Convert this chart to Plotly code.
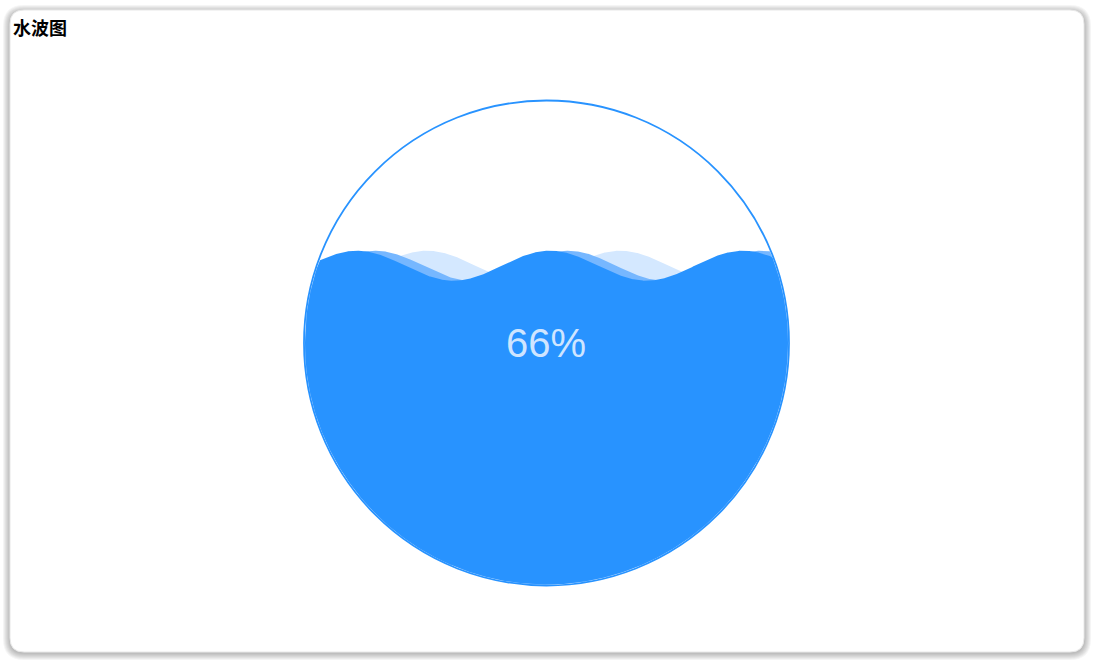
import numpy as np
import plotly.graph_objects as go

# ---- data ----
title_text = "水波图"
wave_values = [0.66, 0.66, 0.66]          # back, middle, front wave levels
label_value = 0.66
label_text = f"{round(label_value * 100)}%"

# ---- style / layout constants ----
W, H = 1094, 662
CX, CY = 546.5, 343.0
R_FILL = 241.5
R_OUT = 242.5
AMP = 15.0
WAVELEN = 193.0
wave_peaks = [427.0, 568.0, 550.0]        # x of one crest per wave (back, middle, front)
wave_colors = ["#d4e8ff", "#76b7ff", "#2893ff"]
MAIN = "#2893ff"


def rounded_rect(x0, y0, x1, y1, r):
    return (f"M{x0+r},{y0} L{x1-r},{y0} Q{x1},{y0} {x1},{y0+r} "
            f"L{x1},{y1-r} Q{x1},{y1} {x1-r},{y1} L{x0+r},{y1} "
            f"Q{x0},{y1} {x0},{y1-r} L{x0},{y0+r} Q{x0},{y0} {x0+r},{y0} Z")


fig = go.Figure()

# waves clipped to the fill circle
xs = np.linspace(CX - R_FILL, CX + R_FILL, 900)
half = np.sqrt(np.clip(R_FILL**2 - (xs - CX) ** 2, 0, None))
top_circle = CY - half
bot_circle = CY + half
for val, peak, col in zip(wave_values, wave_peaks, wave_colors):
    level_y = CY + R_FILL - val * 2 * R_FILL
    wave_y = level_y - AMP * np.cos(2 * np.pi * (xs - peak) / WAVELEN)
    upper = np.maximum(wave_y, top_circle)
    upper = np.minimum(upper, bot_circle)
    px = np.concatenate([xs, xs[::-1]])
    py = np.concatenate([upper, bot_circle[::-1]])
    fig.add_trace(go.Scatter(x=px, y=py, mode="lines", fill="toself",
                             fillcolor=col, line=dict(width=0, color=col),
                             hoverinfo="skip", showlegend=False))

# card shadow + card
shapes = []
for i in range(7, 0, -1):
    shapes.append(dict(type="path", xref="x", yref="y", layer="below",
                       path=rounded_rect(10 - i, 10 - i + 2, 1084 + i, 652 + i + 1, 14 + i),
                       fillcolor="rgba(0,0,0,0.04)", line=dict(width=0)))
shapes.append(dict(type="path", xref="x", yref="y", layer="below",
                   path=rounded_rect(10, 10, 1084, 652, 14),
                   fillcolor="white", line=dict(width=1, color="#e8e8e8")))
# outline circle
shapes.append(dict(type="circle", xref="x", yref="y", layer="above",
                   x0=CX - R_OUT, x1=CX + R_OUT, y0=CY - R_OUT, y1=CY + R_OUT,
                   line=dict(color=MAIN, width=1.8), fillcolor="rgba(0,0,0,0)"))

fig.update_layout(
    width=W, height=H,
    margin=dict(l=0, r=0, t=0, b=0),
    paper_bgcolor="white", plot_bgcolor="rgba(0,0,0,0)",
    xaxis=dict(range=[0, W], visible=False, fixedrange=True),
    yaxis=dict(range=[H, 0], visible=False, fixedrange=True),
    shapes=shapes,
    annotations=[
        dict(x=CX - 1, y=CY, xref="x", yref="y", text=label_text, showarrow=False,
             font=dict(family="Liberation Sans, Arial", size=40, color="#cfe5ff"),
             xanchor="center", yanchor="middle"),
        dict(x=11, y=27, xref="x", yref="y", text=f"<b>{title_text}</b>", showarrow=False,
             font=dict(family="Noto Sans CJK SC", size=18, color="#000000"),
             xanchor="left", yanchor="middle"),
    ],
)

fig.write_html("out.html", config={"displayModeBar": False})
